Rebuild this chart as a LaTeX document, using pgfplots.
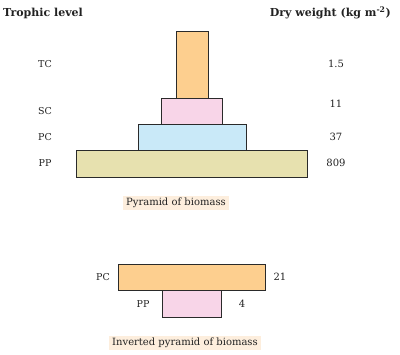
\documentclass[border=0pt]{standalone}
\usepackage{fontspec}
\setmainfont{DejaVu Serif}
\usepackage{pgfplots}
\pgfplotsset{compat=1.18}
\definecolor{corange}{HTML}{FDCF8F}
\definecolor{cpink}{HTML}{F8D5E8}
\definecolor{cblue}{HTML}{C9E9F8}
\definecolor{ckhaki}{HTML}{E7E1AF}
\definecolor{cpeach}{HTML}{FDEEDD}
\definecolor{cedge}{HTML}{2A2A2A}
\definecolor{ctext}{HTML}{222222}
\begin{document}
\begin{tikzpicture}
\begin{axis}[
  scale only axis, width=400pt, height=355pt,
  xmin=0, xmax=400, ymin=0, ymax=355, y dir=reverse,
  hide axis, clip=false,
]
\path (rel axis cs:0,0) rectangle (rel axis cs:1,1);
% Pyramid of biomass
\addplot[fill=ckhaki, draw=cedge, line width=0.8pt] coordinates {(76,150) (307,150) (307,177) (76,177)} -- cycle;
\addplot[fill=cblue, draw=cedge, line width=0.8pt] coordinates {(138,124) (246,124) (246,150) (138,150)} -- cycle;
\addplot[fill=cpink, draw=cedge, line width=0.8pt] coordinates {(161,98) (222,98) (222,124) (161,124)} -- cycle;
\addplot[fill=corange, draw=cedge, line width=0.8pt] coordinates {(176,31) (208,31) (208,98) (176,98)} -- cycle;
% Inverted pyramid
\addplot[fill=corange, draw=cedge, line width=0.8pt] coordinates {(118,264) (265,264) (265,290) (118,290)} -- cycle;
\addplot[fill=cpink, draw=cedge, line width=0.8pt] coordinates {(162,290) (221,290) (221,317) (162,317)} -- cycle;

\node[text=ctext, font=\bfseries\fontsize{11}{13}\selectfont, anchor=west, inner sep=0pt] at (axis cs:3,13) {Trophic level};
\node[text=ctext, font=\bfseries\fontsize{11}{13}\selectfont, anchor=east, inner sep=0pt] at (axis cs:391,13) {Dry weight (kg m\textsuperscript{-2})};

\begin{scope}[every node/.style={text=ctext, font=\fontsize{9.5}{11}\selectfont}]
\node at (axis cs:45,64) {TC};
\node at (axis cs:45,111) {SC};
\node at (axis cs:45,137) {PC};
\node at (axis cs:45,163) {PP};
\node at (axis cs:103,277) {PC};
\node at (axis cs:143,304) {PP};
\end{scope}
\begin{scope}[every node/.style={text=ctext, font=\fontsize{10}{12}\selectfont}]
\node at (axis cs:336,64) {1.5};
\node at (axis cs:336,104) {11};
\node at (axis cs:336,137) {37};
\node at (axis cs:336,163) {809};
\node at (axis cs:280,277) {21};
\node at (axis cs:242,304) {4};
\end{scope}
\begin{scope}[every node/.style={text=ctext, font=\fontsize{10}{12}\selectfont}]
\node[fill=cpeach, inner xsep=3pt, inner ysep=2.5pt] at (axis cs:176,203) {Pyramid of biomass};
\node[fill=cpeach, inner xsep=3pt, inner ysep=2.5pt] at (axis cs:185,343) {Inverted pyramid of biomass};
\end{scope}
\end{axis}
\end{tikzpicture}
\end{document}
